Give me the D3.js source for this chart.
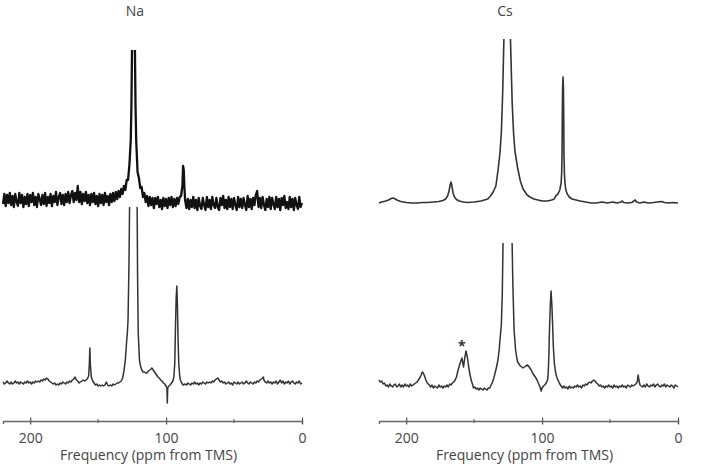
<!DOCTYPE html>
<html>
<head>
<meta charset="utf-8">
<script src="https://cdn.jsdelivr.net/npm/d3@7"></script>
<style>
  body { margin: 0; background: #fff; }
  svg { display: block; font-family: "Open Sans", "Noto Sans", sans-serif; }
</style>
</head>
<body>
<svg id="chart" width="701" height="464"></svg>
<script>
// spectra: [ppm, intensity above baseline]
const naTop = [[220,-4],[219,6],[218,-6],[217,5],[216,-3],[215,7],[214,-5],[213,4],[212,-7],[211,6],[210,-2],[209,-6],[208,7],[207,-3],[206,5],[205,-7],[204,3],[203,-4],[202,6],[201,-6],[200,5],[199,-2],[198,7],[197,-5],[196,3],[195,-7],[194,6],[193,1],[192,-5],[191,5],[190,-4],[189,7],[188,-6],[187,3],[186,-3],[185,6],[184,-6],[183,4],[182,-2],[181,8],[180,-5],[179,3],[178,7],[177,-4],[176,5],[175,-5],[174,6],[173,-2],[172,8],[171,-3],[170,5],[169,9],[168,-2],[167,7],[166,0],[165,14],[164,-2],[163,8],[162,-4],[161,6],[160,-1],[159,8],[158,-3],[157,5],[156,-5],[155,6],[154,-2],[153,7],[152,-4],[151,4],[150,-6],[149,6],[148,-3],[147,5],[146,-5],[145,7],[144,-2],[143,4],[142,-5],[141,6],[140,-2],[139,7],[138,-1],[137,8],[136,1],[135,9],[134,3],[133,11],[132,6],[131,14],[130,10],[129,20],[128,20],[127,35],[126,60],[125.5,95],[125,160],[124.5,300],[124,420],[123.5,300],[123,160],[122.5,95],[122,60],[121,28],[120,22],[119,12],[118,13],[117,3],[116,7],[115,-2],[114,4],[113,-6],[112,3],[111,-5],[110,2],[109,-8],[108,2],[107,-4],[106,3],[105,-7],[104,0],[103,-9],[102,2],[101,-6],[100,1],[99,-8],[98,2],[97,-5],[96,3],[95,-7],[94,1],[93,-6],[92,2],[91,-4],[90,3],[89,4],[88,14],[87.5,34],[87,30],[86.5,12],[86,0],[85,-8],[84,1],[83,-9],[82,0],[81,-7],[80,3],[79,-8],[78,0],[77,-10],[76,2],[75,-6],[74,-9],[73,2],[72,-5],[71,-10],[70,3],[69,-7],[68,0],[67,-9],[66,3],[65,-5],[64,-8],[63,2],[62,-7],[61,-10],[60,2],[59,-5],[58,4],[57,-8],[56,0],[55,-9],[54,3],[53,-7],[52,1],[51,-9],[50,2],[49,-5],[48,-10],[47,3],[46,-7],[45,1],[44,-8],[43,2],[42,-5],[41,-10],[40,4],[39,-7],[38,1],[37,-9],[36,2],[35,-5],[34,5],[33,9],[32,-7],[31,2],[30,-8],[29,3],[28,-5],[27,-10],[26,1],[25,-7],[24,3],[23,-9],[22,2],[21,-4],[20,-9],[19,3],[18,-7],[17,1],[16,-10],[15,2],[14,-5],[13,4],[12,-8],[11,-2],[10,-9],[9,3],[8,-7],[7,1],[6,-10],[5,2],[4,-5],[3,-9],[2,3],[1,-7],[0,-3]];

const naBottom = [[220,1],[219,-1],[218,0],[217,2],[216,0],[215,-1],[214,1],[213,-1],[212,0],[211,2],[210,0],[209,1],[208,-1],[207,1],[206,0],[205,-1],[204,1],[203,0],[202,2],[201,0],[200,1],[199,-1],[198,1],[197,0],[196,2],[195,1],[194,2],[193,1],[192,3],[191,2],[190,4],[189,3],[188,5],[187,4],[186,2],[185,1],[184,0],[183,-1],[182,0],[181,-2],[180,-1],[179,-2],[178,0],[177,-1],[176,1],[175,0],[174,-1],[173,1],[172,0],[171,2],[170,1],[169,3],[168,4],[167,6],[166,3],[165,2],[164,0],[163,1],[162,2],[161,3],[160,2],[159,3],[158,4],[157,7],[156.5,18],[156.1,35],[155.7,18],[155,6],[154,2],[153,0],[152,-2],[151,-1],[150,-3],[149,-2],[148,-3],[147,-2],[146,-3],[145,-2],[144,1],[143,-2],[142,-3],[141,-2],[140,-3],[139,-1],[138,-2],[137,-1],[136,0],[135,0],[134,1],[133,2],[132,5],[131,12],[130,23],[129,42],[128.5,50],[128,63],[127.3,120],[126.7,200],[125.5,500],[124,800],[122.5,500],[121.4,200],[121,110],[120.5,50],[119.6,23],[118.8,17],[117.9,13],[117,11],[116,11],[115,10],[114.2,10],[113,12],[112,13],[111,14],[110.5,15],[110,14],[109,12],[108,10],[107,8],[106,6],[105,5],[104,3],[103,2],[102,0],[101,-1],[100,-3],[99.4,-5],[99.1,-20],[98.8,-5],[98,-3],[97,-2],[96,0],[95,2],[94.3,6],[93.6,20],[93.1,55],[92.6,85],[92.1,97],[91.7,80],[91.2,45],[90.7,20],[90,7],[89.5,3],[88.5,0],[87.5,-2],[86,-1],[85,-2],[84,0],[83,-1],[82,-2],[81,0],[80,-1],[79,1],[78,-1],[77,0],[76,-2],[75,0],[74,-1],[73,1],[72,0],[71,-1],[70,1],[69,0],[68,1],[67,0],[66,2],[65,1],[64,3],[63,4],[62,5],[61,3],[60,1],[59,2],[58,0],[57,1],[56,-1],[55,0],[54,1],[53,-1],[52,0],[51,-2],[50,1],[49,0],[48,-1],[47,1],[46,-1],[45,0],[44,1],[43,-1],[42,0],[41,2],[40,0],[39,-1],[38,1],[37,0],[36,-1],[35,1],[34,0],[33,2],[32,1],[31,3],[30,4],[29,5],[28.5,6],[28,3],[27,1],[26,0],[25,2],[24,0],[23,1],[22,-1],[21,1],[20,0],[19,2],[18,-1],[17,1],[16,3],[15,0],[14,2],[13,-1],[12,1],[11,0],[10,2],[9,-1],[8,1],[7,2],[6,0],[5,-1],[4,1],[3,0],[2,2],[1,-1],[0,0]];

const csTop = [[220,0],[218,1],[215,2],[213,3],[211,4.5],[209.6,5],[208,4],[206,2.5],[204,1.5],[200,0.5],[196,0],[192,0],[188,0.5],[184,0.5],[180,1],[176,1.5],[173,2.5],[171,4],[169.5,7],[168.5,12],[167.5,19],[167,21],[166.5,18],[165.5,10],[164.5,6],[163,3.5],[161,2],[158,1],[155,0.5],[150,1],[145,2],[140,4],[138,7],[136,11],[134,17],[132.4,33],[131,50],[130,70],[129,110],[128,170],[127,260],[126,340],[125.7,350],[125,320],[124,230],[123.4,170],[122,100],[121,70],[120,52],[118,35],[116,22],[114,14],[112,10],[111,8],[109,6],[106,4],[103,3],[100,2],[96,2],[93,3],[91,4],[90,7],[89,8],[88,10],[87,13],[86,20],[85.6,30],[85.3,50],[85.1,90],[84.9,115],[84.6,126],[84.3,115],[84.1,90],[83.9,50],[83.6,30],[83.2,20],[82.5,13],[81.5,9],[80,6],[78,4],[75,3],[72,2],[68,1],[64,0],[60,0],[56,1],[52,0],[48,1],[45,0],[42,1],[41,2],[40,0.5],[37,0],[34,0.5],[31.5,3],[30.5,1],[28,0],[25,1],[22,0],[18,0.5],[15,1],[12,1.5],[10,0.5],[7,0],[4,0.5],[0,0]];

const csBottom = [[220,5],[219,3],[218,4],[217,1],[216,2],[215,-1],[214,0],[213,-2],[212,1],[211,-1],[210,-2],[209,0],[208,1],[207,-2],[206,-1],[205,1],[204,-2],[203,0],[202,-2],[201,1],[200,-1],[199,0],[198,-2],[197,1],[196,-1],[195,0],[194,1],[193,2],[192,3],[191,5],[190,7],[189,10],[188.2,13],[187.4,12],[186.5,9],[185.5,5],[184.5,2],[183,0],[182,-2],[181,0],[180,-3],[179,-1],[178,-2],[177,-3],[176,0],[175,-2],[174,-1],[173,-3],[172,-1],[171,-2],[170,0],[169,-2],[168,1],[167,0],[166,2],[165,3],[164,5],[163,8],[161.8,15],[160.5,21],[159,27],[158.3,22],[157.8,18],[157,26],[156,34],[155,28],[154,18],[153,10],[152,4],[151,0],[150.5,-3],[149.5,-2],[148.5,-4],[147.5,-3],[146.5,-5],[145.5,-3],[144.5,-4],[143.5,-5],[142.5,-3],[141.5,-4],[140.5,-5],[139.5,-3],[138.5,-3],[137.5,0],[136.5,3],[135.5,7],[134.6,12],[133.5,18],[132.5,25],[131.5,36],[131,45],[130,60],[129.3,90],[128.7,145],[128,190],[127,240],[125.4,260],[124,240],[123,190],[122.1,145],[121.5,100],[120.6,55],[119.5,35],[118.5,26],[118,23],[117,21],[116,19],[115,18],[114,17],[113,18],[112,19],[110.7,20],[110,19],[109,17],[108,15],[107,12],[106,10],[105,8],[103.7,5],[102.5,1],[101.5,-2],[100.7,-6],[100,-3],[99,-1],[98,0],[97,2],[96,5],[95.5,12],[95,30],[94.5,58],[94,78],[93.4,94],[92.8,80],[92.2,58],[91.7,38],[91,22],[90,12],[89,7],[88,4],[87,1],[86,-1],[85,-3],[84,-1],[83,-3],[82,-2],[81,-4],[80,-1],[79,-3],[78,-2],[77,-3],[76,-1],[75,-2],[74,0],[73,-2],[72,-1],[71,-3],[70,0],[69,-1],[68,1],[67,0],[66,2],[65,3],[64,2],[63,4],[62,5],[61,4],[60,2],[59,1],[58,-1],[57,0],[56,-2],[55,-1],[54,-3],[53,-1],[52,-2],[51,0],[50,-2],[49,-1],[48,-3],[47,0],[46,-2],[45,-1],[44,-3],[43,-1],[42,-2],[41,0],[40,-2],[39,-1],[38,-3],[37,0],[36,-1],[35,-2],[34,0],[33,-1],[32,0],[31,1],[30,3],[29.3,10],[28.6,4],[28,0],[27,-1],[26,-2],[25,0],[24,-2],[23,1],[22,-1],[21,-2],[20,0],[19,-1],[18,1],[17,-2],[16,0],[15,1],[14,-1],[13,-2],[12,0],[11,-1],[10,1],[9,-2],[8,0],[7,-1],[6,-2],[5,0],[4,-1],[3,-3],[2,0],[1,-1],[0,-2]];

const panelTitles = ["Na", "Cs"];
const majorTicks = [200, 100, 0];
const minorTicks = [150, 50];
const axisLabel = "Frequency (ppm from TMS)";
const starMark = { ppm: 159, label: "*" };   // marked peak in the Cs lower trace

const svg = d3.select('#chart');

const panels = [
  { title: panelTitles[0], range: [3, 302], titleX: 135,
    traces: [ { data: naTop, base: 200, top: 50, color: '#111', width: 2.3 },
              { data: naBottom, base: 383, top: 207, color: '#333', width: 1.5 } ] },
  { title: panelTitles[1], range: [379, 678], titleX: 505,
    traces: [ { data: csTop, base: 203, top: 39, color: '#333', width: 1.6 },
              { data: csBottom, base: 385, top: 243, color: '#333', width: 1.5 } ] }
];

const axisY = 421;

panels.forEach((p, pi) => {
  const x = d3.scaleLinear().domain([220, 0]).range(p.range);

  // panel title
  svg.append('text')
    .attr('x', p.titleX)
    .attr('y', 16)
    .attr('text-anchor', 'middle')
    .attr('font-size', 14)
    .attr('fill', '#444')
    .text(p.title);

  p.traces.forEach((t, ti) => {
    const y = d3.scaleLinear().domain([0, 100]).range([t.base, t.base - 100]);
    const id = `clip-${pi}-${ti}`;
    svg.append('clipPath').attr('id', id)
      .append('rect')
      .attr('x', p.range[0] - 3)
      .attr('y', t.top)
      .attr('width', p.range[1] - p.range[0] + 6)
      .attr('height', 464 - t.top);

    const line = d3.line()
      .x(d => x(d[0]))
      .y(d => y(d[1]));

    svg.append('path')
      .datum(t.data)
      .attr('clip-path', `url(#${id})`)
      .attr('fill', 'none')
      .attr('stroke', t.color)
      .attr('stroke-width', t.width)
      .attr('stroke-linejoin', 'round')
      .attr('d', line);

    // asterisk over the shoulder peak (Cs, lower trace)
    if (pi === 1 && ti === 1) {
      svg.append('text')
        .attr('x', x(starMark.ppm))
        .attr('y', y(42) + 8)
        .attr('text-anchor', 'middle')
        .attr('font-size', 14)
        .attr('font-weight', 'bold')
        .attr('fill', '#333')
        .text(starMark.label);
    }
  });

  // x axis
  const g = svg.append('g').attr('transform', `translate(0,${axisY})`);
  g.call(d3.axisBottom(x).tickValues(majorTicks).tickSizeOuter(0).tickSize(3));
  g.select('.domain').attr('stroke', '#666').attr('stroke-width', 1.4);
  g.selectAll('.tick line').attr('y1', -3.5).attr('y2', 3.5).attr('stroke', '#555').attr('stroke-width', 1.2);
  g.selectAll('.tick text')
    .attr('y', 12)
    .attr('font-size', 14)
    .attr('font-family', '"Open Sans", sans-serif')
    .attr('fill', '#444');

  g.selectAll('.minor')
    .data(minorTicks)
    .enter()
    .append('line')
    .attr('class', 'minor')
    .attr('x1', d => x(d)).attr('x2', d => x(d))
    .attr('y1', -2).attr('y2', 2)
    .attr('stroke', '#555')
    .attr('stroke-width', 1);

  svg.append('text')
    .attr('x', (p.range[0] + p.range[1]) / 2 - 4)
    .attr('y', 460)
    .attr('text-anchor', 'middle')
    .attr('font-size', 14)
    .attr('fill', '#444')
    .text(axisLabel);
});
</script>
</body>
</html>
